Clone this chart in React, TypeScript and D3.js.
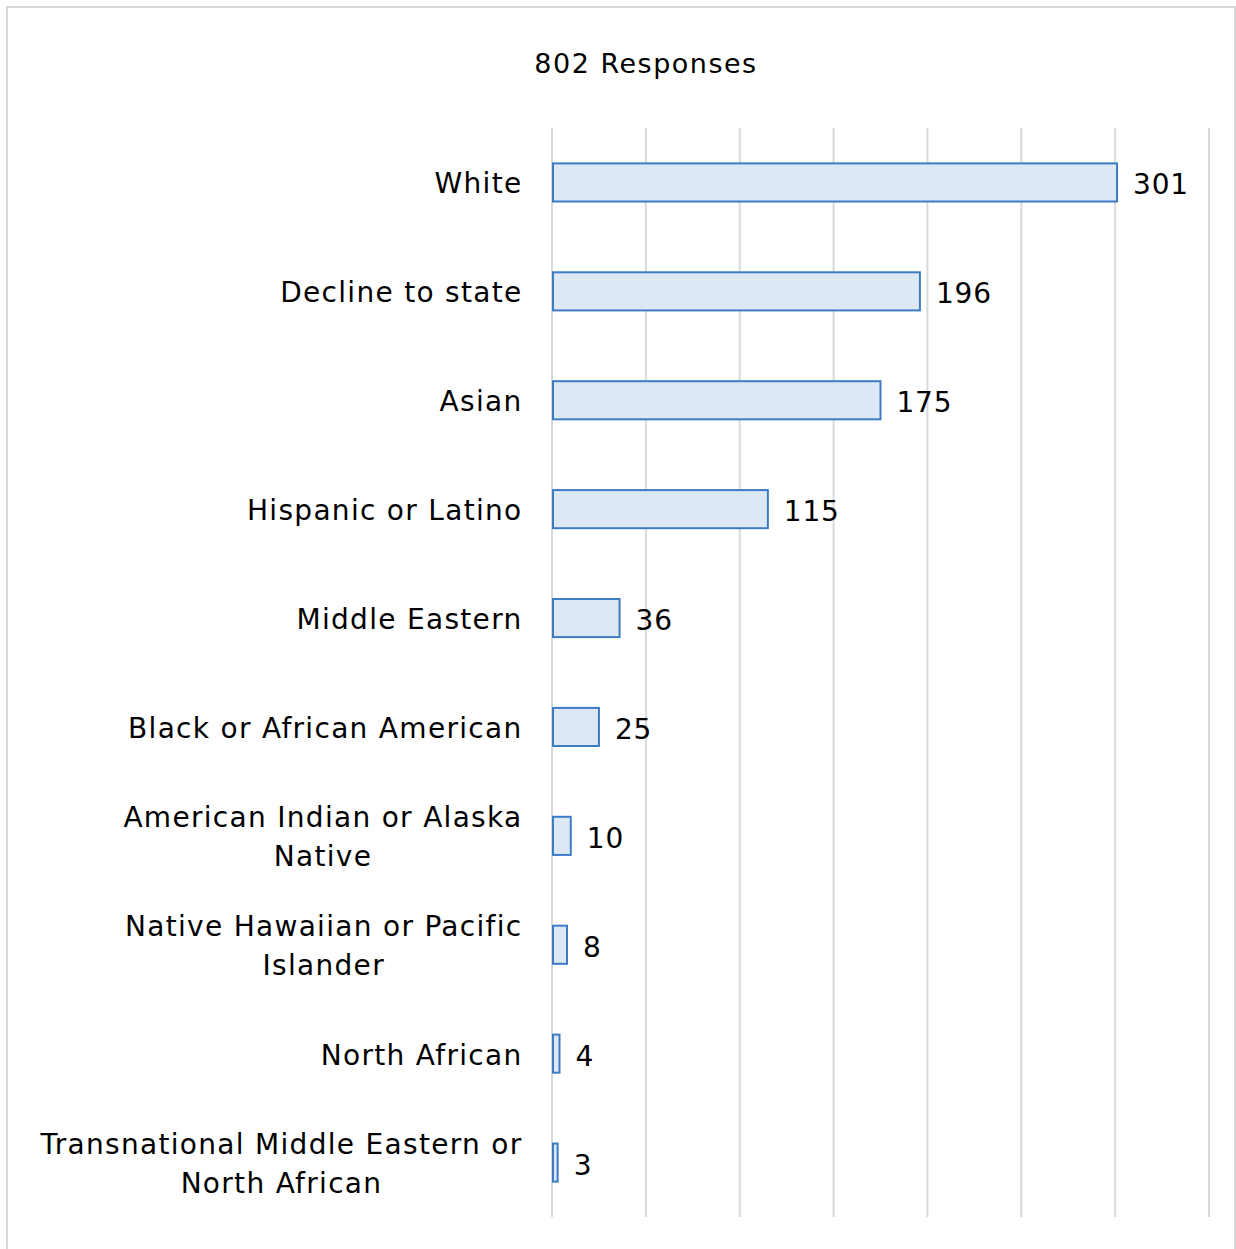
import React, { useEffect, useRef } from "react";
import * as d3 from "d3";

const categories = [
  "White",
  "Decline to state",
  "Asian",
  "Hispanic or Latino",
  "Middle Eastern",
  "Black or African American",
  "American Indian or Alaska Native",
  "Native Hawaiian or Pacific Islander",
  "North African",
  "Transnational Middle Eastern or North African",
];
const labelLines = [
  ["White"],
  ["Decline to state"],
  ["Asian"],
  ["Hispanic or Latino"],
  ["Middle Eastern"],
  ["Black or African American"],
  ["American Indian or Alaska", "Native"],
  ["Native Hawaiian or Pacific", "Islander"],
  ["North African"],
  ["Transnational Middle Eastern or", "North African"],
];
const values = [301, 196, 175, 115, 36, 25, 10, 8, 4, 3];
const xTicks = [0, 50, 100, 150, 200, 250, 300, 350];
const title = "802 Responses";

const W = 1236;
const H = 1249;
const FONT = "'DejaVu Sans', sans-serif";

export default function App() {
  const ref = useRef<SVGSVGElement | null>(null);
  useEffect(() => {
    const svg = d3.select(ref.current);
    svg.selectAll("*").remove();

    svg
      .append("rect")
      .attr("x", 7)
      .attr("y", 7)
      .attr("width", 1228)
      .attr("height", 1243)
      .attr("fill", "#fff")
      .attr("stroke", "#d9d9d9")
      .attr("stroke-width", 2);

    const x = d3.scaleLinear().domain([0, 350]).range([552, 1209]);
    const y = d3
      .scaleBand<string>()
      .domain(categories)
      .range([128, 1217])
      .paddingInner(0.65)
      .paddingOuter(0.325);

    svg
      .append("g")
      .selectAll("line")
      .data(xTicks)
      .join("line")
      .attr("x1", (d) => x(d))
      .attr("x2", (d) => x(d))
      .attr("y1", 128)
      .attr("y2", 1217)
      .attr("stroke", "#d9d9d9")
      .attr("stroke-width", 2);

    svg
      .append("text")
      .attr("x", 646)
      .attr("y", 73)
      .attr("text-anchor", "middle")
      .attr("font-family", FONT)
      .attr("font-size", 27)
      .attr("letter-spacing", 1.5)
      .attr("fill", "#000")
      .text(title);

    svg
      .append("g")
      .selectAll("rect")
      .data(values)
      .join("rect")
      .attr("x", x(0) + 1)
      .attr("y", (_, i) => y(categories[i])!)
      .attr("width", (d) => x(d) - x(0) - 1)
      .attr("height", y.bandwidth())
      .attr("fill", "#dde8f5")
      .attr("stroke", "#3d7cc4")
      .attr("stroke-width", 2);

    svg
      .append("g")
      .selectAll("text")
      .data(values)
      .join("text")
      .attr("x", (d) => x(d) + 16)
      .attr("y", (_, i) => y(categories[i])! + y.bandwidth() / 2 + 12)
      .attr("font-family", FONT)
      .attr("font-size", 28)
      .attr("letter-spacing", 0.8)
      .attr("fill", "#000")
      .text((d) => String(d));

    const lg = svg.append("g");
    labelLines.forEach((lines, i) => {
      const cy = y(categories[i])! + y.bandwidth() / 2;
      const lh = 39;
      const top = cy - ((lines.length - 1) * lh) / 2;
      const texts = lines.map((ln, j) =>
        lg
          .append("text")
          .attr("y", top + j * lh + 11)
          .attr("font-family", FONT)
          .attr("font-size", 28)
          .attr("letter-spacing", 1.3)
          .attr("fill", "#000")
          .attr("text-anchor", "middle")
          .text(ln)
      );
      const widths = texts.map((t) => (t.node() as SVGTextElement).getComputedTextLength());
      const maxW = Math.max(...widths);
      const cx = 522.5 - maxW / 2;
      texts.forEach((t) => t.attr("x", cx));
    });
  }, []);
  return (
    <div style={{ position: "absolute", left: 0, top: 0 }}>
      <svg ref={ref} width={W} height={H} style={{ display: "block" }} />
    </div>
  );
}
